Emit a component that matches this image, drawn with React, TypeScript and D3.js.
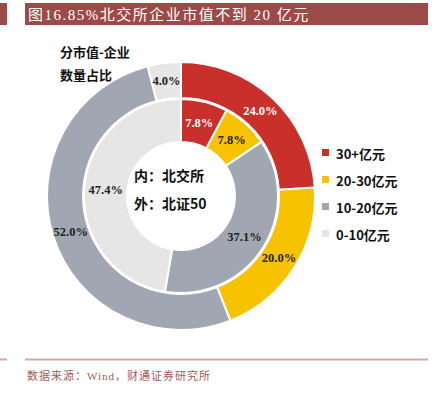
import { useEffect, useRef } from 'react'
import * as d3 from 'd3'

const CATEGORIES = ['30+亿元', '20-30亿元', '10-20亿元', '0-10亿元']
const COLORS = ['#c9302c', '#f7c200', '#a1a7b2', '#e6e6e6']
const LABEL_COLORS = ['#ffffff', '#222222', '#222222', '#222222']
// outer ring: 北证50, inner ring: 北交所
const OUTER_VALUES = [24.0, 20.0, 52.0, 4.0]
const INNER_VALUES = [7.8, 7.8, 37.1, 47.4]

const TITLE = '图16.85%北交所企业市值不到 20 亿元'
const SOURCE = '数据来源：Wind，财通证券研究所'

const SANS = '"Noto Sans CJK SC", "Noto Sans", sans-serif'
const SERIF = '"Liberation Serif", "Noto Sans CJK SC", serif'

export default function App() {
  const svgRef = useRef<SVGSVGElement>(null)

  useEffect(() => {
    document.body.style.margin = '0'
    if (!svgRef.current) return
    const svg = d3.select(svgRef.current)
    svg.selectAll('*').remove()

    const width = 447
    const height = 398
    svg.attr('width', width).attr('height', height)

    // title bar
    svg.append('rect').attr('x', 0).attr('y', 3).attr('width', 7).attr('height', 22).attr('fill', '#9c4a47')
    svg.append('rect').attr('x', 25).attr('y', 3).attr('width', 403).attr('height', 22).attr('fill', '#9c4a47')
    svg.append('text')
      .attr('x', 28).attr('y', 20)
      .attr('font-family', SERIF)
      .attr('font-size', 15)
      .attr('letter-spacing', 1.5)
      .attr('fill', '#ffffff')
      .text(TITLE)

    // footer
    svg.append('rect').attr('x', 0).attr('y', 358.5).attr('width', 7).attr('height', 2).attr('fill', '#d6a9a8')
    svg.append('rect').attr('x', 25).attr('y', 358.5).attr('width', 403).attr('height', 2).attr('fill', '#d6a9a8')
    svg.append('text')
      .attr('x', 27).attr('y', 380)
      .attr('font-family', SERIF)
      .attr('font-size', 11)
      .attr('letter-spacing', 1)
      .attr('fill', '#a65a57')
      .text(SOURCE)

    const cx = 181
    const cy = 196
    const g = svg.append('g').attr('transform', `translate(${cx},${cy})`)

    const pie = d3.pie<number>().sort(null).value(d => d)

    const rings = [
      { values: OUTER_VALUES, inner: 98, outer: 134 },
      { values: INNER_VALUES, inner: 54, outer: 97 },
    ]

    rings.forEach(ring => {
      const arc = d3.arc<d3.PieArcDatum<number>>()
        .innerRadius(ring.inner)
        .outerRadius(ring.outer)
      const arcs = pie(ring.values)

      g.selectAll(null)
        .data(arcs)
        .enter()
        .append('path')
        .attr('d', arc)
        .attr('fill', (_, i) => COLORS[i])
        .attr('stroke', '#ffffff')
        .attr('stroke-width', 2)

      g.selectAll(null)
        .data(arcs)
        .enter()
        .append('text')
        .attr('x', d => arc.centroid(d)[0])
        .attr('y', d => arc.centroid(d)[1])
        .attr('text-anchor', 'middle')
        .attr('dominant-baseline', 'central')
        .attr('font-family', SERIF)
        .attr('font-weight', 'bold')
        .attr('font-size', 12.5)
        .attr('fill', (_, i) => LABEL_COLORS[i])
        .text(d => `${d.data.toFixed(1)}%`)
    })

    // centre text
    const centre = ['内：北交所', '外：北证50']
    centre.forEach((t, i) => {
      svg.append('text')
        .attr('x', 134).attr('y', 181 + i * 28)
        .attr('font-family', SANS)
        .attr('font-weight', 'bold')
        .attr('font-size', 14)
        .attr('fill', '#111111')
        .text(t)
    })

    // top-left caption
    const caption = ['分市值-企业', '数量占比']
    caption.forEach((t, i) => {
      svg.append('text')
        .attr('x', 60).attr('y', 57 + i * 23)
        .attr('font-family', SANS)
        .attr('font-weight', 'bold')
        .attr('font-size', 13)
        .attr('fill', '#111111')
        .text(t)
    })

    // legend
    const legend = svg.append('g').attr('transform', 'translate(322,153)')
    CATEGORIES.forEach((c, i) => {
      const row = legend.append('g').attr('transform', `translate(0,${i * 27})`)
      row.append('rect')
        .attr('x', 0).attr('y', -4)
        .attr('width', 7).attr('height', 7)
        .attr('fill', COLORS[i])
      row.append('text')
        .attr('x', 14).attr('y', 0)
        .attr('dominant-baseline', 'central')
        .attr('font-family', SANS)
        .attr('font-weight', 'bold')
        .attr('font-size', 13)
        .attr('fill', '#111111')
        .text(c)
    })
  }, [])

  return (
    <svg ref={svgRef} style={{ display: 'block', background: '#ffffff' }} />
  )
}
